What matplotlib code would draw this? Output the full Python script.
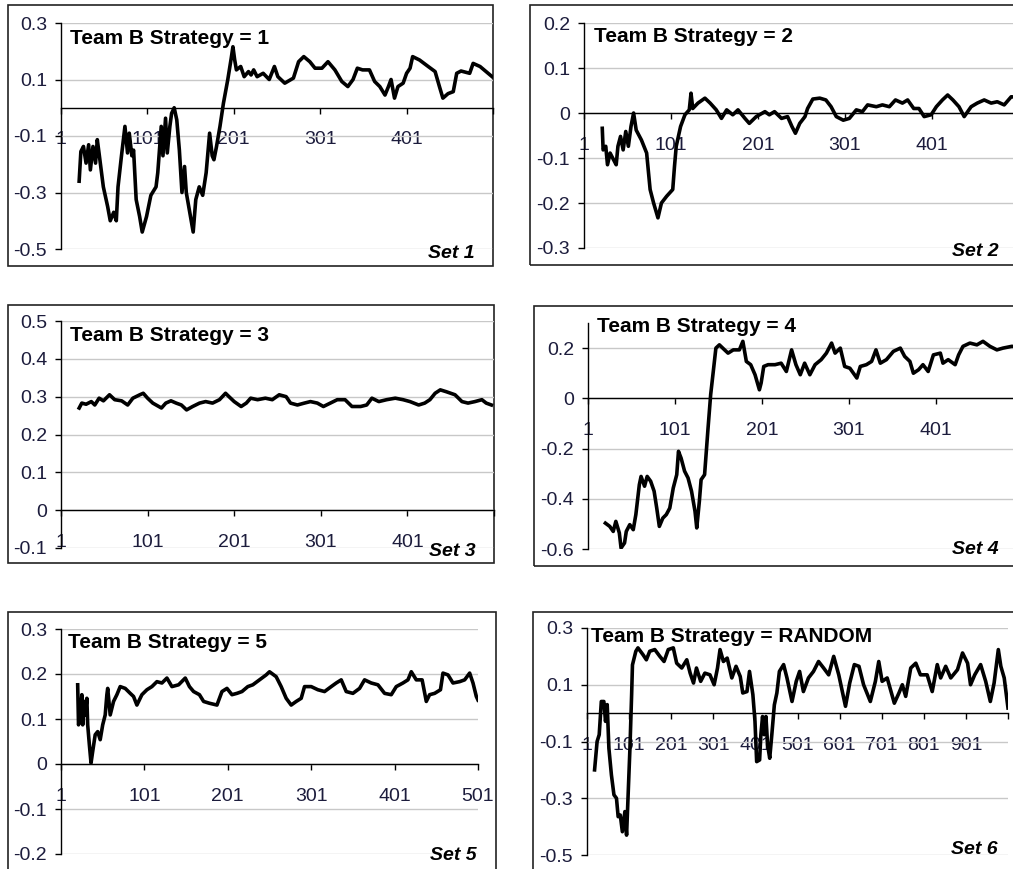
import matplotlib
matplotlib.use("Agg")
import matplotlib.pyplot as plt
from matplotlib.patches import Rectangle

plt.rcParams['font.family'] = ['Liberation Sans', 'DejaVu Sans']

# ---- data (step number, value) ----
set1_x = [22, 24, 27, 30, 33, 35, 38, 41, 43, 45, 50, 55, 58, 62, 65, 67, 71, 75, 78, 80,
          83, 85, 88, 92, 95, 100, 105, 111, 113, 117, 119, 122, 124, 127, 129, 132, 135, 138,
          141, 144, 146, 150, 154, 157, 161, 165, 169, 173, 176, 178, 181, 185, 189, 194, 198,
          200, 202, 204, 209, 213, 218, 221, 224, 228, 235, 242, 248, 252, 260, 270, 276, 282,
          289, 295, 303, 310, 318, 326, 333, 339, 344, 350, 358, 364, 370, 376, 380, 383, 387,
          391, 397, 401, 405, 408, 416, 426, 434, 439, 443, 449, 455, 459, 464, 474, 478, 486,
          493, 500]
set1_y = [-0.26, -0.155, -0.137, -0.196, -0.131, -0.22, -0.137, -0.196, -0.113, -0.16, -0.28,
          -0.35, -0.40, -0.37, -0.40, -0.28, -0.17, -0.066, -0.16, -0.09, -0.17, -0.15, -0.325,
          -0.385, -0.44, -0.385, -0.31, -0.28, -0.23, -0.066, -0.17, -0.037, -0.16, -0.066,
          -0.02, 0.0, -0.043, -0.15, -0.30, -0.208, -0.30, -0.37, -0.44, -0.325, -0.28, -0.31,
          -0.23, -0.09, -0.17, -0.184, -0.137, -0.066, 0.016, 0.099, 0.175, 0.216, 0.17, 0.134,
          0.146, 0.11, 0.128, 0.116, 0.134, 0.11, 0.122, 0.1, 0.146, 0.11, 0.087, 0.105, 0.163,
          0.181, 0.163, 0.14, 0.14, 0.163, 0.134, 0.093, 0.075, 0.1, 0.14, 0.134, 0.134, 0.093,
          0.075, 0.045, 0.075, 0.1, 0.034, 0.075, 0.087, 0.122, 0.14, 0.181, 0.169, 0.146,
          0.128, 0.075, 0.034, 0.05, 0.057, 0.122, 0.13, 0.122, 0.157, 0.146, 0.128, 0.11]

set2_x = [22, 23, 26, 28, 31, 35, 38, 40, 43, 46, 49, 52, 55, 58, 61, 67, 73, 77, 81, 86,
          90, 96, 103, 105, 107, 112, 117, 122, 124, 126, 132, 140, 146, 153, 159, 165, 172,
          178, 186, 191, 199, 209, 214, 220, 228, 235, 240, 244, 249, 255, 258, 264, 272, 279,
          285, 291, 299, 306, 314, 321, 327, 337, 344, 352, 359, 367, 373, 380, 386, 392, 400,
          406, 413, 419, 425, 432, 438, 446, 453, 461, 469, 476, 484, 492, 500]
set2_y = [-0.034, -0.082, -0.074, -0.115, -0.089, -0.104, -0.115, -0.074, -0.052, -0.082,
          -0.041, -0.074, -0.03, 0.0, -0.038, -0.06, -0.089, -0.17, -0.2, -0.233, -0.2, -0.185,
          -0.17, -0.119, -0.074, -0.03, -0.004, 0.007, 0.044, 0.01, 0.022, 0.033, 0.022, 0.007,
          -0.012, 0.007, -0.004, 0.007, -0.012, -0.023, -0.008, 0.003, -0.004, 0.003, -0.012,
          -0.008, -0.03, -0.045, -0.023, -0.008, 0.01, 0.031, 0.033, 0.029, 0.014, -0.008,
          -0.016, -0.012, 0.007, 0.003, 0.018, 0.014, 0.018, 0.014, 0.029, 0.022, 0.029, 0.01,
          0.01, -0.008, -0.004, 0.014, 0.029, 0.04, 0.029, 0.014, -0.008, 0.014, 0.022, 0.029,
          0.022, 0.025, 0.018, 0.036, 0.035]

set3_x = [22, 25, 30, 36, 40, 45, 50, 57, 63, 71, 78, 84, 92, 96, 101, 107, 117, 122, 128,
          134, 140, 146, 153, 161, 168, 176, 184, 191, 195, 201, 209, 215, 220, 228, 237, 245,
          253, 261, 266, 274, 282, 289, 297, 304, 312, 320, 329, 337, 347, 354, 360, 368, 377,
          387, 396, 404, 414, 421, 427, 433, 439, 446, 456, 464, 471, 479, 487, 492, 498]
set3_y = [0.27, 0.283, 0.28, 0.287, 0.278, 0.296, 0.289, 0.305, 0.292, 0.289, 0.278, 0.296,
          0.305, 0.309, 0.296, 0.283, 0.27, 0.283, 0.289, 0.283, 0.278, 0.265, 0.274, 0.283,
          0.287, 0.283, 0.292, 0.309, 0.3, 0.287, 0.274, 0.283, 0.296, 0.292, 0.296, 0.292,
          0.305, 0.3, 0.283, 0.278, 0.283, 0.287, 0.283, 0.274, 0.283, 0.292, 0.292, 0.274,
          0.274, 0.278, 0.296, 0.287, 0.292, 0.296, 0.292, 0.287, 0.278, 0.283, 0.292, 0.309,
          0.318, 0.313, 0.305, 0.287, 0.283, 0.287, 0.292, 0.283, 0.278]

set4_x = [21, 26, 30, 33, 37, 39, 43, 45, 49, 53, 56, 60, 62, 66, 69, 73, 77, 80, 83, 87,
          91, 95, 99, 103, 105, 108, 112, 116, 120, 124, 126, 129, 131, 135, 139, 142, 145,
          148, 152, 158, 162, 168, 175, 179, 183, 188, 193, 198, 200, 203, 208, 216, 223, 229,
          235, 240, 245, 250, 256, 262, 269, 275, 281, 285, 291, 296, 302, 310, 314, 321, 327,
          332, 337, 344, 352, 360, 365, 371, 375, 381, 386, 392, 398, 406, 409, 415, 423, 427,
          432, 440, 448, 455, 463, 471, 478, 488, 500]
set4_y = [-0.497, -0.51, -0.53, -0.49, -0.536, -0.596, -0.576, -0.53, -0.503, -0.523, -0.463,
          -0.344, -0.311, -0.35, -0.311, -0.33, -0.37, -0.437, -0.51, -0.477, -0.463, -0.437,
          -0.357, -0.304, -0.211, -0.238, -0.29, -0.317, -0.37, -0.45, -0.516, -0.41, -0.324,
          -0.304, -0.118, 0.015, 0.107, 0.2, 0.213, 0.193, 0.18, 0.193, 0.193, 0.227, 0.147,
          0.134, 0.094, 0.034, 0.061, 0.127, 0.134, 0.134, 0.14, 0.107, 0.193, 0.134, 0.094,
          0.14, 0.094, 0.134, 0.154, 0.18, 0.22, 0.18, 0.2, 0.127, 0.12, 0.081, 0.127, 0.134,
          0.147, 0.193, 0.14, 0.154, 0.187, 0.2, 0.167, 0.147, 0.1, 0.114, 0.134, 0.107, 0.173,
          0.18, 0.14, 0.154, 0.134, 0.173, 0.207, 0.22, 0.213, 0.227, 0.207, 0.193, 0.2, 0.207,
          0.205]

set5_x = [21, 22, 24, 26, 27, 29, 30, 32, 33, 35, 37, 39, 42, 45, 48, 51, 54, 56, 57, 60,
          64, 68, 72, 78, 84, 88, 92, 98, 104, 110, 116, 122, 128, 134, 142, 150, 155, 160,
          167, 172, 179, 188, 194, 200, 206, 212, 218, 225, 231, 239, 247, 251, 259, 265, 271,
          277, 283, 289, 293, 301, 309, 317, 325, 331, 337, 343, 351, 359, 365, 373, 381, 389,
          397, 403, 411, 417, 421, 427, 434, 439, 443, 449, 456, 459, 465, 471, 479, 485, 491,
          495, 499, 501]
set5_y = [0.176, 0.087, 0.102, 0.154, 0.087, 0.139, 0.109, 0.146, 0.087, 0.043, 0.002, 0.028,
          0.065, 0.072, 0.054, 0.087, 0.109, 0.154, 0.168, 0.109, 0.139, 0.154, 0.172, 0.168,
          0.157, 0.15, 0.131, 0.154, 0.165, 0.172, 0.183, 0.18, 0.191, 0.172, 0.176, 0.191,
          0.172, 0.161, 0.154, 0.139, 0.135, 0.131, 0.161, 0.168, 0.154, 0.157, 0.161, 0.172,
          0.176, 0.187, 0.198, 0.205, 0.194, 0.172, 0.146, 0.131, 0.139, 0.146, 0.172, 0.172,
          0.165, 0.161, 0.172, 0.18, 0.187, 0.161, 0.157, 0.168, 0.187, 0.18, 0.176, 0.157,
          0.154, 0.172, 0.18, 0.187, 0.205, 0.187, 0.187, 0.139, 0.154, 0.157, 0.165, 0.202,
          0.198, 0.18, 0.183, 0.187, 0.202, 0.18, 0.15, 0.142]

set6_x = [19, 25, 30, 35, 41, 45, 49, 53, 59, 65, 71, 75, 80, 85, 91, 95, 99, 103, 107, 109,
          117, 122, 134, 142, 150, 162, 174, 184, 194, 206, 214, 226, 238, 246, 254, 261, 271,
          281, 293, 303, 311, 317, 325, 334, 345, 355, 365, 371, 381, 387, 395, 400, 404, 411,
          414, 418, 422, 426, 430, 435, 440, 446, 452, 458, 468, 476, 488, 498, 506, 515, 527,
          539, 551, 563, 575, 587, 599, 615, 625, 636, 647, 658, 674, 686, 694, 702, 714, 731,
          742, 750, 758, 770, 782, 793, 809, 821, 833, 841, 853, 865, 881, 893, 905, 912, 922,
          936, 948, 959, 968, 978, 984, 992, 1001]
set6_y = [-0.2, -0.1, -0.076, 0.041, 0.041, -0.029, 0.03, -0.124, -0.218, -0.288, -0.3,
          -0.365, -0.359, -0.418, -0.347, -0.43, -0.276, -0.124, 0.065, 0.17, 0.218, 0.23,
          0.206, 0.188, 0.218, 0.224, 0.2, 0.182, 0.224, 0.23, 0.176, 0.159, 0.188, 0.141, 0.106,
          0.159, 0.112, 0.141, 0.135, 0.1, 0.159, 0.224, 0.182, 0.194, 0.124, 0.165, 0.129,
          0.071, 0.076, 0.147, 0.065, -0.029, -0.171, -0.165, -0.076, -0.012, -0.076, -0.012,
          -0.112, -0.159, -0.076, 0.029, 0.071, 0.147, 0.171, 0.124, 0.041, 0.112, 0.147, 0.076,
          0.124, 0.147, 0.182, 0.159, 0.135, 0.2, 0.135, 0.024, 0.106, 0.171, 0.165, 0.1, 0.041,
          0.112, 0.182, 0.112, 0.124, 0.035, 0.071, 0.1, 0.059, 0.159, 0.176, 0.135, 0.135,
          0.076, 0.171, 0.124, 0.165, 0.124, 0.153, 0.212, 0.176, 0.1, 0.135, 0.171, 0.112,
          0.041, 0.106, 0.224, 0.165, 0.124, 0.018]

titles = ["Team B Strategy = 1", "Team B Strategy = 2", "Team B Strategy = 3",
          "Team B Strategy = 4", "Team B Strategy = 5", "Team B Strategy = RANDOM"]
set_labels = ["Set 1", "Set 2", "Set 3", "Set 4", "Set 5", "Set 6"]
series = [(set1_x, set1_y), (set2_x, set2_y), (set3_x, set3_y),
          (set4_x, set4_y), (set5_x, set5_y), (set6_x, set6_y)]

# ---- layout, in pixels of the 1013x869 picture ----
W, H = 1013, 869
panels = [
    # box (x0, y0, x1, y1), axes (x_left, x_right, y_top, y_bottom), limits, ticks, text positions
    dict(box=(8, 5, 493, 266), ax=(61, 493, 23, 249), xlim=(1, 501), ylim=(-0.5, 0.3),
         yt=[-0.5, -0.3, -0.1, 0.1, 0.3], xt=[1, 101, 201, 301, 401, 501], xl=5,
         tpos=(70, 38), spos=(475, 254)),
    dict(box=(530, 5, 1030, 265), ax=(584, 1019, 23, 248), xlim=(1, 501), ylim=(-0.3, 0.2),
         yt=[-0.3, -0.2, -0.1, 0, 0.1, 0.2], xt=[1, 101, 201, 301, 401, 501], xl=5,
         tpos=(594, 36), spos=(999, 251)),
    dict(box=(8, 305, 494, 563), ax=(61, 494, 321, 548), xlim=(1, 501), ylim=(-0.1, 0.5),
         yt=[-0.1, 0, 0.1, 0.2, 0.3, 0.4, 0.5], xt=[1, 101, 201, 301, 401, 501], xl=5,
         tpos=(70, 336), spos=(476, 551)),
    dict(box=(534, 306, 1030, 566), ax=(588, 1023, 323, 549), xlim=(1, 501), ylim=(-0.6, 0.3),
         yt=[-0.6, -0.4, -0.2, 0, 0.2], xt=[1, 101, 201, 301, 401, 501], xl=5,
         tpos=(597, 327), spos=(999, 550)),
    dict(box=(8, 612, 496, 900), ax=(61, 478, 629, 854), xlim=(1, 501), ylim=(-0.2, 0.3),
         yt=[-0.2, -0.1, 0, 0.1, 0.2, 0.3], xt=[1, 101, 201, 301, 401, 501], xl=6,
         tpos=(68, 643), spos=(477, 855)),
    dict(box=(533, 612, 1030, 900), ax=(587, 1008, 628, 855), xlim=(1, 1001), ylim=(-0.5, 0.3),
         yt=[-0.5, -0.3, -0.1, 0.1, 0.3], xt=list(range(1, 1002, 100)), xl=10,
         tpos=(591, 636), spos=(998, 849)),
]

fig = plt.figure(figsize=(W / 100, H / 100), dpi=100)
fig.patch.set_facecolor("white")

label_color = "#1c1c3c"

for (xs, ys), title, setlab, p in zip(series, titles, set_labels, panels):
    bx0, by0, bx1, by1 = p["box"]
    fig.add_artist(Rectangle((bx0 / W, 1 - by1 / H), (bx1 - bx0) / W, (by1 - by0) / H,
                             transform=fig.transFigure, fill=False, edgecolor="#222222",
                             linewidth=1.2, zorder=0))

    xl, xr, yt_, yb = p["ax"]
    ax = fig.add_axes([xl / W, 1 - yb / H, (xr - xl) / W, (yb - yt_) / H])
    ax.patch.set_alpha(0)
    ax.set_xlim(*p["xlim"])
    ax.set_ylim(*p["ylim"])

    ax.set_yticks(p["yt"])
    ax.set_yticklabels(["{:g}".format(round(v, 1)) for v in p["yt"]])
    ax.set_xticks(p["xt"])
    ax.set_xticklabels([str(v) if i < p["xl"] else "" for i, v in enumerate(p["xt"])])

    ax.grid(axis="y", color="#c8c8c8", linewidth=1.0)
    ax.set_axisbelow(True)
    for s in ("top", "right"):
        ax.spines[s].set_visible(False)
    ax.spines["left"].set_color("black")
    ax.spines["left"].set_linewidth(1.0)
    ax.spines["bottom"].set_position(("data", 0))
    ax.spines["bottom"].set_color("black")
    ax.spines["bottom"].set_linewidth(1.0)

    ax.tick_params(axis="y", direction="out", length=4, width=1, pad=6,
                   labelsize=14, labelcolor=label_color)
    ax.tick_params(axis="x", direction="out", length=4, width=1, pad=13,
                   labelsize=14, labelcolor=label_color)

    ax.plot(xs, ys, color="black", linewidth=2.6, solid_joinstyle="round", clip_on=True)

    tx, ty = p["tpos"]
    fig.text(tx / W, 1 - ty / H, title, fontsize=15, fontweight="bold",
             ha="left", va="center", color="black")
    sx, sy = p["spos"]
    fig.text(sx / W, 1 - sy / H, setlab, fontsize=14, fontweight="bold", fontstyle="italic",
             ha="right", va="center", color="black")

fig.savefig("out.png", dpi=100)
